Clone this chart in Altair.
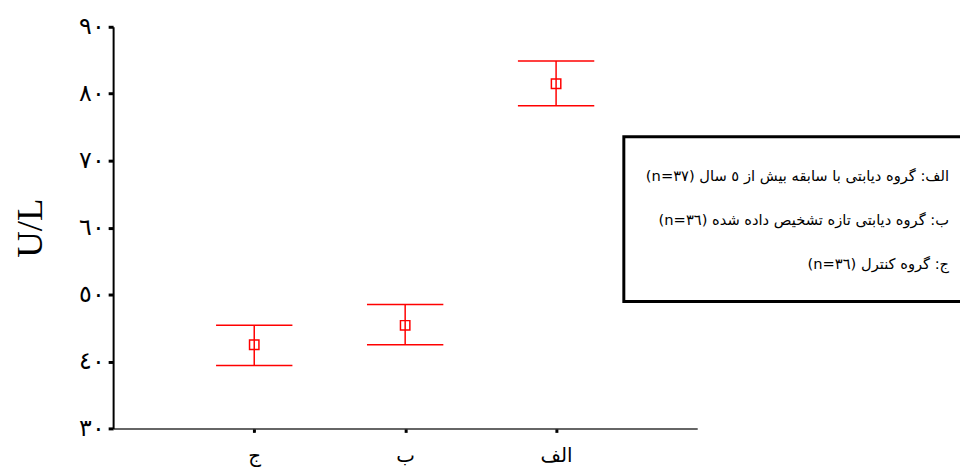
import altair as alt
import pandas as pd

# ---- data ----
groups = ["ج", "ب", "الف"]
means = [42.5, 45.4, 81.5]
upper = [45.4, 48.5, 84.9]
lower = [39.4, 42.5, 78.2]

y_ticks = [30, 40, 50, 60, 70, 80, 90]
y_tick_labels = ["٣٠", "٤٠", "٥٠", "٦٠", "٧٠", "٨٠", "٩٠"]

RLE, LRE, PDF = "\u202b", "\u202a", "\u202c"
legend_lines = [
    RLE + "الف: گروه دیابتی با سابقه بیش از ٥ سال (" + LRE + "n=٣٧" + PDF + ")" + PDF,
    RLE + "ب: گروه دیابتی تازه تشخیص داده شده (" + LRE + "n=٣٦" + PDF + ")" + PDF,
    RLE + "ج: گروه کنترل (" + LRE + "n=٣٦" + PDF + ")" + PDF,
]

df = pd.DataFrame({"group": groups, "mean": means, "upper": upper, "lower": lower})

label_expr = " : ".join(
    f"datum.value == {v} ? '{l}'" for v, l in zip(y_ticks, y_tick_labels)
) + " : datum.label"

x_enc = alt.X(
    "group:N",
    sort=groups,
    scale=alt.Scale(type="point", padding=0.935),
    axis=alt.Axis(
        title=None, labelAngle=0, labelFontSize=20, labelFont="DejaVu Sans",
        labelColor="black", domainColor="#333333", domainWidth=1.5,
        tickColor="black", tickSize=4, tickWidth=3, labelPadding=13, grid=False,
    ),
)

y_scale = alt.Scale(domain=[30, 90], nice=False, zero=False)
y_axis = alt.Axis(
    values=y_ticks, labelExpr=label_expr, title="U/L",
    titleFont="Liberation Serif", titleFontSize=37, titleFontWeight="normal",
    titleColor="black", titleBaseline="alphabetic", titleX=-72,
    domainColor="black", domainWidth=2, tickColor="black", tickSize=5,
    tickWidth=3, labelFontSize=24, labelFont="DejaVu Sans", labelColor="black",
    labelPadding=4, grid=False,
)

base = alt.Chart(df)

bars = base.mark_rule(color="#ff0000", strokeWidth=1.5).encode(
    x=x_enc,
    y=alt.Y("lower:Q", scale=y_scale, axis=y_axis),
    y2="upper:Q",
)
cap_up = base.mark_tick(color="#ff0000", size=77, thickness=1.5, opacity=1).encode(
    x=x_enc, y=alt.Y("upper:Q", scale=y_scale, axis=y_axis)
)
cap_low = base.mark_tick(color="#ff0000", size=77, thickness=1.5, opacity=1).encode(
    x=x_enc, y=alt.Y("lower:Q", scale=y_scale, axis=y_axis)
)
pts = base.mark_point(
    shape="square", size=90, color="#ff0000", filled=False, strokeWidth=1.5, opacity=1
).encode(x=x_enc, y=alt.Y("mean:Q", scale=y_scale, axis=y_axis))

box_df = pd.DataFrame({"k": [0]})
box = alt.Chart(box_df).mark_rect(
    filled=False, stroke="black", strokeWidth=3, clip=False
).encode(
    x=alt.value(515), x2=alt.value(880), y=alt.value(111), y2=alt.value(277)
)
legend_text = alt.Chart(box_df).mark_text(
    align="right", baseline="middle", fontSize=14.8, font="DejaVu Sans",
    lineBreak="\n", lineHeight=44, color="black",
).encode(
    x=alt.value(843), y=alt.value(152), text=alt.value("\n".join(legend_lines))
)

chart = (
    alt.layer(bars, cap_up, cap_low, pts, box, legend_text)
    .properties(
        width=589, height=405,
        autosize=alt.AutoSizeParams(type="none"),
        padding={"left": 106, "top": 17, "right": 265, "bottom": 40},
        background="white",
    )
    .configure_view(stroke=None)
)

chart.save("out.html", embed_options={"renderer": "svg", "actions": False})
